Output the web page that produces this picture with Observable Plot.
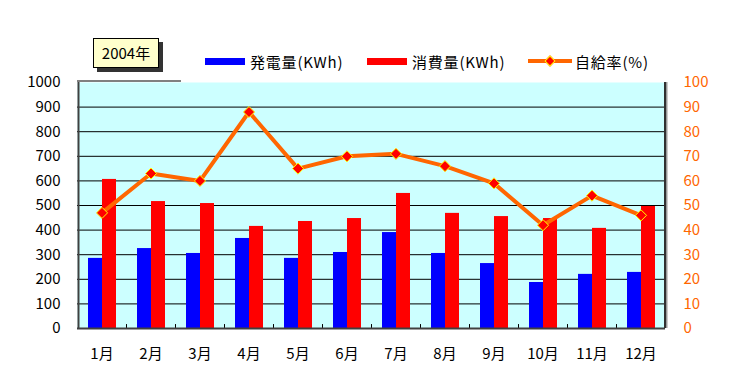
<!DOCTYPE html>
<html>
<head>
<meta charset="utf-8">
<script src="https://cdn.jsdelivr.net/npm/d3@7"></script>
<script src="https://cdn.jsdelivr.net/npm/@observablehq/plot@0.6"></script>
<style>
  html, body { margin: 0; padding: 0; background: #fff; }
  #wrap { position: relative; width: 751px; height: 374px; font-family: "Noto Sans CJK JP", sans-serif; }
  #legend { position: absolute; left: 0; top: 0; width: 751px; height: 74px; z-index: 2; }
  .abs { position: absolute; }
  .lbl { font-size: 15px; line-height: 15px; color: #000; white-space: nowrap; letter-spacing: 0.8px; }
  #yearbox { left: 93px; top: 38px; width: 64px; height: 28px; background: #FFFFCC; border: 1px solid #000;
             box-shadow: 4px 4px 0 #333; font-size: 15px; line-height: 28px; text-align: center; }
  svg { display: block; }
</style>
</head>
<body>
<div id="wrap">
  <div id="chart"></div>
  <div id="legend">
    <div class="abs" id="yearbox">2004年</div>
    <div class="abs" style="left:205px;top:58px;width:40px;height:7px;background:#0000FF"></div>
    <div class="abs lbl" style="left:250px;top:54px">発電量(KWh)</div>
    <div class="abs" style="left:367px;top:58px;width:40px;height:7px;background:#FF0000"></div>
    <div class="abs lbl" style="left:412px;top:54px">消費量(KWh)</div>
    <div class="abs" style="left:528px;top:59px;width:44px;height:4px;background:#FF6600"></div>
    <div class="abs" style="left:546px;top:57px;width:6px;height:6px;background:#FF0000;border:1px solid #FFFF00;transform:rotate(45deg)"></div>
    <div class="abs lbl" style="left:575px;top:54px">自給率(%)</div>
    <div class="abs" style="left:77px;top:80px;width:104px;height:2px;background:#808080"></div>
  </div>
</div>
<script>
const months = ["1月","2月","3月","4月","5月","6月","7月","8月","9月","10月","11月","12月"];
const generation = [285, 325, 305, 366, 285, 309, 390, 305, 264, 187, 220, 228];
const consumption = [606, 516, 508, 415, 435, 447, 549, 468, 455, 447, 407, 496];
const selfRate = [47, 63, 60, 88, 65, 70, 71, 66, 59, 42, 54, 46];
const leftTicks = [0, 100, 200, 300, 400, 500, 600, 700, 800, 900, 1000];
const rightTicks = [0, 10, 20, 30, 40, 50, 60, 70, 80, 90, 100];

const rows = months.map((m, i) => ({month: m, gen: generation[i], con: consumption[i], rate: selfRate[i]}));

const chart = Plot.plot({
  width: 751,
  height: 374,
  marginTop: 82,
  marginBottom: 46,
  marginLeft: 77,
  marginRight: 86,
  style: {fontFamily: "'Noto Sans CJK JP', sans-serif", fontSize: "15px", background: "transparent"},
  x: {domain: months, padding: 0, round: false, axis: null},
  y: {domain: [0, 1000], axis: null},
  marks: [
    Plot.frame({fill: "#CCFFFF", stroke: null}),
    Plot.ruleY(leftTicks.filter(d => d > 0 && d < 1000), {stroke: "#000", strokeWidth: 1}),
    Plot.barY(rows, {x: "month", y: "gen", fill: "#0000FF", insetLeft: 11, insetRight: 24}),
    Plot.barY(rows, {x: "month", y: "con", fill: "#FF0000", insetLeft: 25, insetRight: 10}),
    Plot.ruleX(months.slice(0, -1), {x: d => d, dx: 24.5, y1: 0, y2: 16, stroke: "#000"}),
    Plot.ruleY([0], {stroke: "#404040", strokeWidth: 2}),
    Plot.ruleX([months[0]], {x: d => d, dx: -23.5, y1: 0, y2: 1000, stroke: "#404040", strokeWidth: 2}),
    Plot.ruleX([months[11]], {x: d => d, dx: 25.5, y1: 0, y2: 1000, stroke: "#999", strokeWidth: 2}),
    Plot.ruleX([months[11]], {x: d => d, dx: 24, y1: 0, y2: 1000, stroke: "#303030", strokeWidth: 2}),
    Plot.line(rows, {x: "month", y: d => d.rate * 10, stroke: "#FF6600", strokeWidth: 4}),
    Plot.dot(rows, {x: "month", y: d => d.rate * 10, symbol: "diamond2", r: 5, fill: "#FF0000", stroke: "#FFFF00", strokeWidth: 1}),
    Plot.axisY(leftTicks, {anchor: "left", tickSize: 0, tickPadding: 17, tickFormat: d => String(d), fill: "#000", fontSize: 15, label: null}),
    Plot.axisY(rightTicks.map(d => d * 10), {anchor: "right", tickSize: 0, tickPadding: 18, tickFormat: d => String(d / 10), fill: "#FF6600", fontSize: 15, label: null}),
    Plot.axisX({tickSize: 0, tickPadding: 20, fill: "#000", fontSize: 15, label: null})
  ]
});
document.getElementById("chart").appendChild(chart);
</script>
</body>
</html>
